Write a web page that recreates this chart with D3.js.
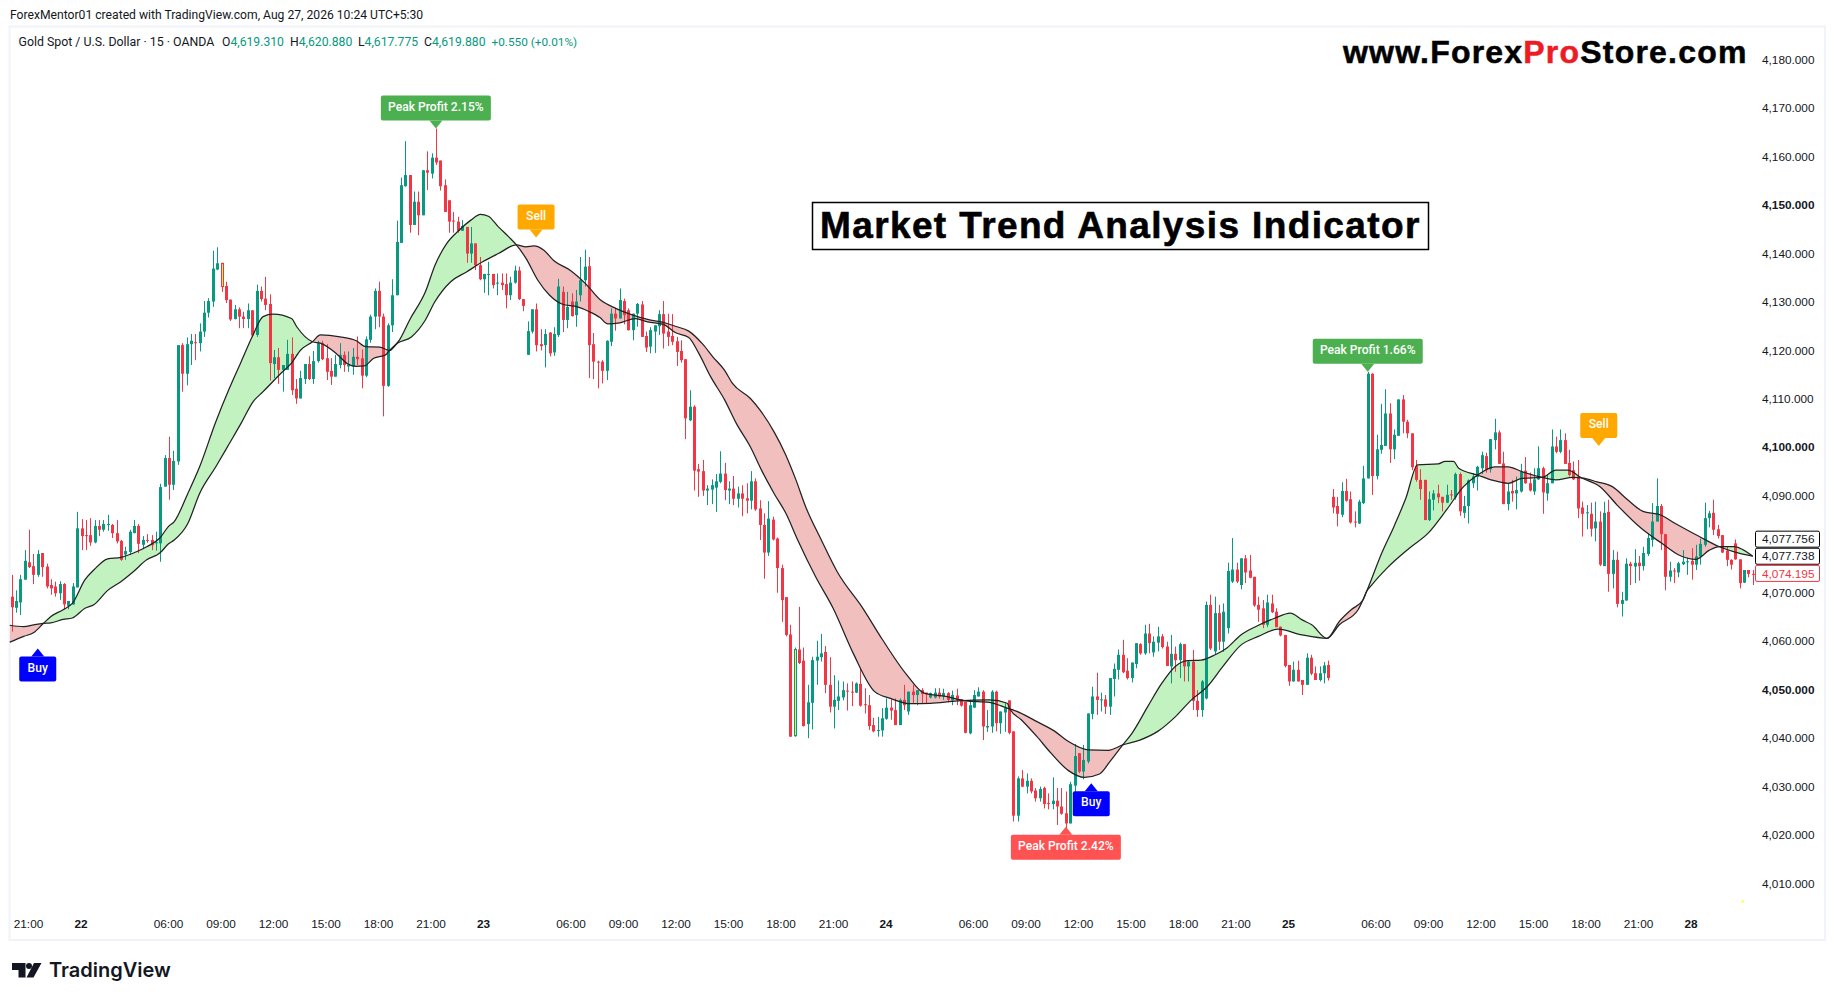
<!DOCTYPE html>
<html>
<head>
<meta charset="utf-8">
<title>Market Trend Analysis Indicator</title>
<script src="https://cdn.jsdelivr.net/npm/d3@7/dist/d3.min.js"></script>
<style>
html, body { margin: 0; padding: 0; background: #fff; overflow: hidden; }
svg { display: block; }
text { font-family: Roboto, "Liberation Sans", sans-serif; fill: #131722; }
.ax text { font-family: "Liberation Sans", sans-serif; font-size: 11.8px; fill: #131722; }
</style>
</head>
<body>
<svg id="chart" width="1835" height="1000"></svg>
<script>
// candles as [open, high, low, close], one list per session
var candles21 = [
    [4069.4,4073.9,4062.2,4067.2],[4067.1,4070.7,4066.1,4068.5],[4068.2,4073.9,4065.6,4073],[4072.9,4079,4072.9,4076.8],
    [4076.5,4083.2,4075.3,4075.5],[4075.7,4078.2,4072,4073.9],[4073.9,4079,4073.5,4078.2],[4078.4,4078.4,4073.5,4075.5],
    [4075.6,4076.2,4071.1,4071.5],[4071.8,4073,4069.8,4071.1],[4071.5,4072.5,4069.4,4070.1],[4070.1,4072.6,4068.7,4072],
    [4072,4072.2,4066.7,4067.8],[4067.5,4068.5,4066.8,4068.5],[4067.8,4072.2,4067.7,4071.5],[4071.3,4086.9,4071.3,4083.5]
];
var candles22 = [
    [4083.5,4085.4,4079,4081.9],[4082.1,4085.2,4079,4081.9],[4082.1,4085.6,4079.9,4080.6],[4080.6,4085.2,4080.4,4084],
    [4084,4085.2,4081.9,4083.2],[4083.2,4085.2,4082.8,4084.4],[4084.3,4086.3,4083,4084.4],[4084.2,4084.4,4081.5,4082.5],
    [4082.5,4085.2,4080.4,4080.8],[4080.9,4081.1,4076.8,4077],[4078.1,4079.7,4077,4078.8],[4078.6,4083.2,4078,4082.8],
    [4082.5,4085.2,4082.5,4084],[4084,4084.4,4078.4,4080.3],[4080.1,4081.9,4079.2,4081.1],[4081.1,4082.3,4080.5,4080.9],
    [4081.1,4082.1,4079,4080],[4080.4,4082.8,4078.9,4080.6],[4080.4,4092.7,4076.6,4092],[4092.1,4098.6,4092.1,4098],
    [4098,4102.4,4089.4,4092.5],[4092.5,4099.5,4091.4,4097.4],[4097.3,4121.3,4096.6,4121.3],[4121.3,4121.7,4111.7,4115.4],
    [4115.4,4122.9,4113,4121.5],[4121.5,4123.6,4117.2,4122.2],[4121.9,4123.6,4118.2,4121.8],[4121.7,4125.8,4120,4124.1],
    [4124.1,4130.4,4123,4128],[4128,4131,4127,4130.4],[4130.3,4140.8,4129.2,4137.1],[4136.9,4141.5,4136.8,4138.2],
    [4138.2,4138.2,4132.3,4133.4],[4133.5,4134.4,4130,4130.6],[4130.7,4130.7,4126.3,4126.6],[4126.7,4129.6,4126.6,4128.7],
    [4128.7,4129.1,4124.8,4127.2],[4127.2,4128.2,4124.8,4126.7],[4126.7,4129.9,4124.8,4128.5],[4128.5,4128.5,4123,4123.3],
    [4123.4,4133.8,4123,4132.5],[4132.5,4133.4,4130.3,4130.8],[4130.9,4135.4,4128.5,4129.6],[4129.8,4131.8,4114,4117.6],
    [4117.4,4120.3,4114.5,4118.8],[4118.8,4120.7,4113.3,4116.2],[4116.2,4117.2,4111.7,4117.2],[4116.2,4122.4,4116.2,4119.5],
    [4119.5,4122.9,4111,4112],[4112.3,4114.3,4109.2,4110.3],[4110.3,4116,4110.3,4114.5],[4114.3,4117.4,4113.3,4117.4],
    [4117.4,4119,4114.1,4114.3],[4114.3,4120.1,4113.3,4118],[4118,4122.2,4117.7,4121.7],[4121.7,4122.2,4118.2,4118.4],
    [4118.6,4121.5,4114.1,4115.8],[4116,4118.6,4113.1,4114.8],[4114.8,4119.3,4114.8,4117.4],[4117.2,4121.7,4116.5,4119.3],
    [4119.3,4120,4115.8,4117.2],[4116.9,4120,4115.8,4117.3],[4116.9,4120.7,4115.2,4118.9],[4118.9,4123.1,4117.2,4118.4],
    [4118.6,4120.4,4112.4,4115],[4115,4123.1,4114.7,4122.5],[4122.4,4127.6,4121.8,4127.2],[4127.2,4133,4124.6,4132.5],
    [4132.5,4134.4,4125,4127.2],[4127.2,4127.8,4106.6,4112.9],[4112.9,4125.8,4112.7,4125.4],[4125.4,4134.9,4124,4131.6],
    [4131.6,4147,4131.6,4142.6],[4142.4,4155.9,4142.4,4154.3],[4154.1,4163.4,4154,4156.4],[4156.4,4156.4,4144.5,4146.1],
    [4146.1,4153,4146.1,4150.9],[4150.9,4153,4144,4148.1],[4148.1,4157.4,4148.1,4157.4],[4157.4,4161.3,4153.3,4156.9],
    [4156.7,4160.9,4155.7,4160],[4160,4166,4158.5,4159],[4159.4,4159.4,4153.2,4154.1],[4154.3,4155.5,4148.8,4148.8],
    [4151.2,4151.2,4144.5,4146.8],[4147,4148.8,4144.5,4146.8],[4146.8,4147.8,4144.5,4144.9],[4144.9,4147.1,4144.9,4145.9],
    [4145.7,4145.7,4138.3,4140.2],[4140.2,4145.7,4138.3,4142.3],[4142.3,4142.3,4136.8,4137.8],[4137.8,4139.5,4134.7,4134.9]
];
var candles23 = [
    [4134.9,4136,4132.1,4136],[4135.8,4138.5,4131.6,4136],[4136,4136,4133,4133.7],[4134,4136.1,4131.6,4134.2],
    [4134.2,4136.1,4132.7,4133.7],[4133.9,4136.1,4128.9,4131.6],[4131.6,4135.4,4130.6,4134.2],[4134.2,4137.7,4134,4136.7],
    [4136.7,4137.5,4130.6,4130.8],[4130.8,4130.8,4128.3,4129.4],[4119.3,4126.2,4119.3,4124.2],[4124.1,4128.7,4123.7,4128.7],
    [4128.7,4129.9,4120,4121.3],[4121.5,4124.6,4120.2,4121.1],[4121.3,4124.6,4116.7,4123.6],[4123.9,4124,4119,4119.6],
    [4119.8,4125,4119.1,4123.6],[4123.4,4135,4123,4133.4],[4132.3,4133.4,4124,4126.5],[4126.5,4132.3,4124.8,4129.2],
    [4130.3,4132,4127.2,4127.3],[4127.5,4132.7,4125.1,4130.3],[4131.6,4139.5,4130.3,4134.7],[4134.7,4141,4133.4,4137.5],
    [4137.6,4139.5,4114.5,4121.3],[4121.5,4123.8,4114.3,4117.9],[4117.9,4118.1,4112.4,4117.7],[4117.9,4118.2,4113.4,4116],
    [4116,4122.3,4114.1,4122.2],[4122,4128.9,4121.1,4127.8],[4127.8,4129,4124.3,4126.8],[4126.8,4133,4126.8,4130.6],
    [4130.4,4130.9,4125.6,4127.5],[4128.5,4128.9,4124.3,4124.4],[4124.4,4127.8,4122.3,4127.8],[4127.8,4130,4125.1,4129.8],
    [4129.7,4130.4,4123,4123],[4123.2,4124.1,4119.9,4120.8],[4121,4125,4119.6,4124.4],[4124.1,4125.4,4119.7,4125.4],
    [4125.2,4128.5,4123.4,4127.7],[4127.7,4130.4,4120.6,4123.7],[4124.1,4127.8,4121.1,4123],[4123.2,4127.7,4121.3,4122],
    [4122.1,4123,4117,4119.9],[4120.1,4122.3,4117.7,4118.2],[4118.4,4118.4,4101.9,4106.2],[4105.8,4112,4105.6,4108.6],
    [4108.6,4108.9,4091.3,4095.4],[4095.7,4096.8,4090,4095.2],[4095.3,4097.6,4090.2,4091.3],[4091.3,4092.4,4088.3,4091.7],
    [4091.5,4093.6,4088.5,4092.4],[4091.9,4094.7,4086.9,4093.2],[4093.1,4099.4,4092.8,4094.8],[4094.8,4097,4089.3,4091.4],
    [4091.3,4093.2,4088.5,4091.7],[4091.7,4094.3,4088.3,4089.6],[4089.6,4092.1,4087.8,4090.7],[4090.7,4092.4,4086,4089.6],
    [4089.7,4092.8,4086.6,4089.2],[4089.2,4095.3,4087.4,4093.2],[4093.2,4093.8,4087.1,4087.4],[4087.6,4089.3,4081.1,4084.2],
    [4084.2,4086.6,4073.1,4078.5],[4078.5,4089.1,4077.8,4085.5],[4085.3,4085.9,4081,4081.2],[4081.4,4081.6,4070.2,4075.3],
    [4075.3,4076,4064.2,4068.7],[4069.3,4069.3,4061.2,4061.5],[4061.6,4063.6,4040.5,4040.5],[4040.7,4058.9,4040.5,4058.5],
    [4058.5,4067.3,4055.5,4055.7],[4056.2,4058.9,4042.6,4042.7],[4043.1,4051.2,4040.2,4047.6],[4047.5,4057,4042,4056.3],
    [4056.2,4060.3,4051.2,4057],[4056.9,4061.7,4056,4057.7],[4058,4059.2,4049.5,4051.2],[4051.2,4056.9,4045.5,4046.7],
    [4046.7,4053.2,4042.2,4048.1],[4047.9,4052.1,4046,4048.8],[4048.6,4051.9,4048,4050.1],[4050,4051.5,4045.9,4049.8],
    [4049.8,4051.9,4046.8,4049.7],[4049.6,4051.7,4049.5,4051.5],[4051.4,4054.5,4046.7,4046.9],[4047.2,4050.5,4045.3,4047],
    [4047,4049.1,4041.9,4042.7],[4042.9,4044.4,4041.4,4041.6],[4041.8,4044.6,4040.5,4041.9],[4041.8,4046.4,4040.5,4044.3]
];
var candles24 = [
    [4044.2,4048.4,4044,4046.5],[4046.5,4048.2,4044,4045.9],[4046,4048.4,4042.9,4042.9],[4042.9,4048.4,4042.9,4048.1],
    [4048.1,4051.2,4046,4047],[4045.7,4049.8,4045,4049.8],[4049.8,4051.2,4047.4,4049.1],[4049.1,4050.1,4047,4050.1],
    [4050.1,4050.5,4047.4,4049.3],[4049.6,4049.6,4047.4,4049.3],[4048.6,4049.6,4048.4,4049.5],[4048.6,4050.5,4048.4,4049.6],
    [4049.6,4050.5,4048.4,4048.8],[4048.8,4050.4,4048.1,4049.5],[4049.5,4049.7,4047.6,4048.1],[4048,4050,4047,4049.1],
    [4049,4050.4,4047,4048.1],[4048.2,4048.2,4046.7,4046.9],[4047.7,4047.7,4041.2,4041.3],[4041.2,4048.1,4041,4047],
    [4046.5,4050.1,4046.4,4049.1],[4048.8,4050.7,4048.8,4049.8],[4049.8,4050.1,4039.8,4042.6],[4042.4,4046,4041.5,4042.7],
    [4042.6,4050.1,4041.3,4049.8],[4049.8,4050,4041.6,4043.3],[4043.3,4045.7,4041.1,4045.7],[4045.5,4047.4,4041.5,4046.4],
    [4048,4048,4041,4041.3],[4041.6,4041.6,4023,4024.2],[4024.2,4032.3,4023,4031.9],[4031.9,4033.6,4030.1,4030.2],
    [4030.2,4032.9,4028.8,4031.4],[4031.4,4031.9,4028.8,4029.2],[4029.4,4029.9,4027.1,4027.8],[4027.8,4030.2,4027.1,4029.7],
    [4029.9,4030.2,4025.7,4026.6],[4026.8,4028.8,4025.5,4026.6],[4026.6,4032.1,4025.5,4027.3],[4027.3,4029.9,4022.3,4026.1],
    [4026.1,4029.9,4024.4,4024.6],[4024.7,4029.2,4021.6,4022.6],[4022.6,4031.2,4022.6,4030.7],[4030.4,4039,4028.8,4036.5],
    [4037.1,4037.1,4033,4033.3],[4033.3,4038.8,4031.7,4035.7],[4035.4,4045.3,4035,4045.3],[4045.2,4050.8,4044.1,4048.8],
    [4048.8,4053.7,4045,4048.1],[4048,4049.6,4045.7,4048.2],[4048.2,4049.1,4045.2,4046.7],[4046.7,4052.6,4045,4052.6],
    [4052.4,4055.6,4048.8,4054.5],[4054.3,4058.5,4052.3,4057.4],[4057.4,4060.5,4053.6,4053.8],[4054.1,4056.7,4052.3,4052.6],
    [4052.6,4055.8,4051.7,4055.8],[4055.5,4059.8,4054.6,4059.8],[4059.6,4059.8,4057.4,4057.7],[4057.7,4063.6,4057.4,4061.8],
    [4061.8,4063.8,4057.7,4059.8],[4057.9,4061.2,4057,4060.1],[4059.9,4063.2,4058.1,4061.2],[4061.2,4061.7,4058.7,4059],
    [4059.1,4060.1,4055.1,4055.1],[4055,4061.5,4051.5,4057.6],[4057.6,4059.1,4053.9,4056.3],[4056.3,4059.9,4052.6,4059.6],
    [4059.6,4059.6,4051.9,4055],[4055,4056.3,4051.9,4056],[4056,4058.4,4046,4047.9],[4047.9,4050.1,4044.6,4046],
    [4046,4052.2,4044.6,4051.9],[4048.4,4068.4,4048.2,4067.7],[4067.7,4069.8,4058.4,4058.7],[4058.1,4069.4,4057.4,4066],
    [4066,4067.7,4058.4,4060.1],[4060.1,4068,4058,4066.3],[4062.9,4076.4,4061.8,4074.7],[4072.5,4081.5,4072.2,4075],
    [4075,4076.4,4072.2,4072.5],[4071.8,4077.3,4070.9,4077.3],[4077.3,4078,4072.2,4074.4],[4074.8,4078,4073.2,4073.3],
    [4073.5,4073.5,4067.3,4067.6],[4067.7,4069.4,4064.2,4066.7],[4067,4068.7,4062.9,4063.6],[4063.6,4069.8,4063.1,4068.2],
    [4068,4069.8,4066,4066.2],[4066.3,4067,4063.1,4063.1],[4063.2,4063.2,4061.2,4061.4],[4061.5,4061.5,4054.8,4055.1]
];
var candles25 = [
    [4055.3,4055.3,4051,4051.9],[4051.9,4056,4051.9,4054.3],[4054.3,4056.2,4051.9,4051.9],[4052.2,4052.2,4049.1,4051.2],
    [4051.2,4057.7,4051.2,4056.8],[4056.8,4057.4,4053.2,4053.5],[4053.6,4055,4052.2,4052.2],[4052.2,4055,4051.9,4053.6],
    [4053.6,4055.9,4051.5,4055.2],[4055.3,4056.2,4052.1,4052.6],[4090,4091.6,4086.6,4087.8],[4088.1,4090,4083.9,4086.5],
    [4086.3,4093,4085.8,4091.2],[4091.2,4093.7,4089,4089.2],[4089.5,4091.1,4084.5,4084.7],[4084.9,4087,4083.7,4084.8],
    [4084.5,4089.4,4084.4,4089],[4088.7,4096.4,4088.5,4093.8],[4093.8,4115.8,4093.8,4115.4],[4115.4,4115.5,4090.4,4094.3],
    [4094.3,4102.8,4093.6,4099.8],[4099.7,4109.2,4098.9,4100.7],[4100.5,4112.2,4100.5,4107.2],[4107.2,4109.3,4097,4099.8],
    [4099.8,4103.9,4097.8,4102.8],[4102.6,4110.1,4102.6,4110.1],[4110.1,4111,4103.1,4105.5],[4105.5,4105.9,4102.1,4103.1],
    [4103.1,4103.1,4095.5,4096.1],[4096.4,4097.6,4093.1,4093.5],[4093.5,4095.7,4089.4,4091.6],[4093.5,4093.5,4085.2,4085.2],
    [4085.2,4091.1,4085,4089.5],[4089.4,4091.4,4087.2,4090.7],[4090.7,4092.5,4088.7,4089.9],[4090,4090,4087,4088.8],
    [4088.8,4092.5,4088.7,4090.4],[4090.5,4091.4,4089.4,4090.3],[4089.9,4095,4089.4,4094.7],[4094.7,4095,4086.1,4087],
    [4086.7,4090.2,4085.6,4088.1],[4088.1,4093.6,4084.5,4093.4],[4092.8,4094.9,4091.8,4094.2],[4094.1,4096.4,4091.3,4096.2],
    [4095.9,4099.3,4094.7,4098.6],[4098.4,4099.1,4095,4095.6],[4095.7,4101.9,4095,4101.9],[4101.7,4106.1,4099.8,4103.3],
    [4103.3,4103.7,4096.8,4096.8],[4096.9,4099.3,4088.5,4088.5],[4088.5,4092.8,4087.2,4091.1],[4091.2,4093.5,4089,4090.7],
    [4090.7,4094.2,4087.4,4091.4],[4091.1,4096.8,4090.9,4095.2],[4095.4,4098.2,4092.7,4092.8],[4092.8,4095,4091.1,4091.3],
    [4091.1,4095.9,4090.4,4093.6],[4093.6,4100.4,4093.5,4095.9],[4095.9,4096.2,4086.5,4090.9],[4090.7,4094.7,4089.2,4092.8],
    [4092.8,4103.9,4092.8,4100.4],[4100.4,4102.4,4099,4099.3],[4099.3,4103.9,4099,4101.7],[4101.7,4103.1,4096.8,4096.8],
    [4097,4099.7,4094.2,4094.5],[4095.5,4097.3,4093.5,4093.6],[4094.2,4097.6,4085.6,4087.6],[4087.8,4089,4081.8,4086.5],
    [4086.6,4088.3,4083.3,4086.8],[4086.5,4088.8,4081.8,4083.4],[4083.5,4089,4080.8,4084.9],[4084.9,4087,4075.7,4076],
    [4075.7,4089,4075.7,4086.7],[4086.9,4089.4,4070.4,4074.1],[4074.1,4079,4071.1,4077],[4077,4078.7,4067.2,4067.9],
    [4067.9,4070.4,4065.3,4068.7],[4068.6,4077.3,4068.6,4076.2],[4076.2,4076.6,4071.8,4075.7],[4075.6,4079.2,4072.2,4076.4],
    [4076.4,4077.8,4072.7,4075.7],[4075.7,4079.7,4074.8,4078.4],[4078.2,4082.5,4077.8,4081.5],[4081.1,4088.7,4079.7,4084.9],
    [4084.9,4093.8,4084.9,4088.1],[4088.1,4088.5,4079,4082.3],[4082.3,4082.3,4070.7,4073.5],[4073.5,4076.6,4072.5,4074.8],
    [4074.8,4075.3,4072.2,4074.6],[4074.4,4076.6,4073.4,4076.3],[4076.1,4079,4075.9,4076.6],[4076.6,4077.5,4073.9,4076.7]
];
var candles28 = [
    [4076.8,4079.4,4072.9,4076],[4076,4080.1,4074.9,4077.7],[4077.7,4081.4,4076,4080.3],[4080.1,4088.8,4079.7,4085.6],
    [4085.6,4087.1,4083.7,4086.6],[4086.7,4089.4,4082.1,4083.2],[4083.3,4084.2,4081.4,4081.9],[4082.1,4082.1,4078.4,4078.5],
    [4078.9,4079.7,4075.7,4077],[4077,4077.1,4075,4076],[4080.4,4081.2,4077,4077.1],[4077.1,4077.1,4071.1,4072.2],
    [4072.3,4074.9,4072.2,4074.9],[4074.9,4074.9,4073.4,4074.1],[4074.1,4074.9,4071.8,4074]
];
var outlinedBars = [48, 179];

// the two indicator lines as [bar, price]
var fastLine = [
    [-0.4,4060],[2.8,4061.2],[5.1,4062],[7.3,4063.9],[9,4065.3],[11.8,4066.7],[13.9,4068],[16.8,4072.9],[18.9,4075],[22,4077.2],
    [25,4077.5],[27.9,4078.4],[30.9,4079.7],[33.9,4081.5],[35.9,4083.9],[37.2,4084.9],[40.3,4090.7],[43,4096.2],[46.7,4105.5],[49.8,4112.4],
    [52.5,4117.9],[55.2,4123.4],[57.5,4127.2],[59.8,4127.7],[64,4126.8],[65.2,4125.1],[68.8,4122],[70.6,4121.7],[74.2,4119.6],[76.9,4117.4],
    [78.8,4116.9],[80.6,4117],[82.8,4118.6],[85.5,4119.3],[86.4,4120.2],[88.7,4122.4],[91,4126.5],[94.6,4132.3],[96.8,4137.8],[99.5,4142.3],
    [102.3,4145],[105,4147.1],[107.2,4148.3],[109,4147.9],[111.3,4145.7],[113.6,4143.7],[115.4,4142],[117.6,4139.2],[120.3,4134.7],[123,4131.6],
    [125.8,4129.8],[129.4,4129.2],[132.1,4128.2],[134.5,4127],[136.3,4125.7],[139,4125.9],[142.6,4126.8],[145.4,4126.1],[149,4125.6],[151.7,4123.9],
    [154.8,4122.9],[157.1,4119.6],[159.8,4114.8],[163,4110],[165.7,4105.1],[168.9,4100.3],[171.6,4095.2],[174.3,4090.7],[177,4086.6],[179.7,4081.1],
    [183.8,4073.5],[187.8,4067],[192.4,4057.7],[197.3,4049.8],[200.9,4048.4],[205.5,4047.3],[210,4047.4],[216.3,4047.9],[223.5,4048.1],[227.6,4047.4],
    [228.2,4046.2],[230.8,4044],[234.4,4040.5],[237.6,4037.1],[241.6,4033.5],[245.2,4032.1],[248.7,4032.8],[251.1,4035.4],[254,4038.8],[256.1,4041.2],
    [259.7,4046.7],[262.9,4051.5],[266,4055],[268.8,4056.2],[271.9,4056.3],[275.1,4057.4],[277.8,4058.8],[281,4061.5],[284.1,4063.1],[288.6,4064.9],
    [292.3,4066],[295,4064.6],[297.2,4063.6],[300.7,4060.8],[303.5,4063.6],[307.8,4066.7],[309.7,4070.4],[313.2,4078.4],[316,4083.9],[318.7,4089.7],
    [321.4,4096.6],[326.1,4096.8],[327.7,4097.3],[329.6,4097.3],[330.8,4095.9],[335.1,4094.5],[338.2,4093.5],[342.1,4092.8],[345.2,4093.8],[349.9,4094],
    [353,4095.5],[355.7,4095.5],[358.9,4093.9],[363.1,4092.1],[367,4088.3],[372.5,4083.5],[377.2,4080.4],[381.1,4078],[385,4077.1],[388.1,4079],
    [390.4,4079.7],[393.6,4079.7],[398,4077.756]
];
var slowLine = [
    [-0.4,4063.5],[2.8,4063.2],[5.1,4063.6],[7.3,4063.9],[9,4064],[11.8,4064.7],[13.9,4065],[16.8,4067],[18.9,4067.8],[22,4070.7],
    [25,4072.5],[27.9,4074.6],[30.9,4077],[33.9,4078.4],[35.9,4080.3],[37.2,4081.1],[40.3,4084.5],[43,4090.7],[46.7,4096.2],[49.8,4101],
    [52.5,4105.2],[55.2,4109.6],[57.5,4111.7],[61.6,4115.5],[64,4117.6],[66.1,4120.3],[68.8,4122],[70.6,4123.4],[75.1,4123],[78.8,4122.2],
    [81,4121],[84.2,4120.9],[86.4,4120.2],[88.2,4121.7],[91.4,4123],[94.6,4126.5],[96.8,4130.3],[100.4,4134.4],[104,4136.4],[107.7,4138.5],
    [111.3,4140.2],[115.4,4142],[117.6,4141.6],[119.4,4141.8],[121.7,4140.9],[124,4138.7],[127.6,4136.8],[131.2,4134],[134.8,4130.5],[138.1,4128.9],
    [141.7,4127.6],[145.4,4126.6],[149,4126],[151.7,4125.2],[154.8,4124.2],[158,4121.5],[160.3,4118.9],[163,4116.1],[164.8,4113.4],[168.9,4110.3],
    [171.1,4107.9],[174.3,4103.4],[177,4098.6],[179.3,4093.5],[181.5,4088],[185.1,4081.1],[188.7,4074.6],[194.6,4067],[199.1,4060.5],[204.6,4053.3],
    [208.6,4049.5],[213.6,4048.8],[218.1,4047.9],[223.5,4047.6],[228.2,4046.2],[229,4046],[234.4,4043.6],[238.5,4041.6],[241.6,4039.5],[246.1,4037.8],
    [250.7,4037.7],[254,4038.8],[257.9,4039.8],[262,4041.6],[266,4044.6],[269.7,4048.1],[273.3,4050.8],[276.9,4055],[281,4059.4],[285,4061.2],
    [289.5,4062.7],[295,4061.5],[300.7,4060.8],[303.5,4064.3],[306.2,4066.7],[308.9,4068.7],[309.7,4070.4],[310.9,4071.8],[314.4,4075.3],[319.5,4079.4],
    [323.8,4082.5],[328,4087.3],[331.9,4092.1],[335.1,4094.5],[339,4096.2],[342.1,4096.2],[345.2,4095.2],[349.9,4094],[353,4093.5],[356.9,4094],
    [358.9,4093.9],[362.4,4093.1],[365.9,4092.1],[369.4,4089.4],[372.9,4087],[376.8,4086.3],[380.3,4084.5],[385.8,4081.8],[390.4,4079.7],[393.6,4078.7],
    [398,4077.738]
];

var priceTicks = [4180,4170,4160,4150,4140,4130,4120,4110,4100,4090,4070,4060,4050,4040,4030,4020,4010];
var boldPrices = [4150,4100,4050];
var timeBars = [4,16,36,48,60,72,84,96,108,128,140,152,164,176,188,200,220,232,244,256,268,280,292,312,324,336,348,360,372,384];
var timeLabels = ['21:00','22','06:00','09:00','12:00','15:00','18:00','21:00','23','06:00','09:00','12:00','15:00','18:00','21:00','24',
    '06:00','09:00','12:00','15:00','18:00','21:00','25','06:00','09:00','12:00','15:00','18:00','21:00','28'];

// signal flags: label, bar, price of the arrow tip, colour, box width, up = box hangs under the tip
var signalTexts = ['Buy','Peak Profit 2.15%','Sell','Peak Profit 2.42%','Buy','Peak Profit 1.66%','Sell'];
var signalBars = [6,97,119.9,241,246.8,310,362.8];
var signalPrices = [4058.7,4166,4143.5,4021.9,4030.9,4115.8,4100.5];
var signalColors = ['#0000ff','#4caf50','#ffa800','#ff5252','#0000ff','#4caf50','#ffa800'];
var signalWidths = [37,110,37,110,37,110,37];
var signalUp = [true,false,false,true,true,false,false];

// stray yellow dot below the last candles
var dotBars = [395.7];
var dotPrices = [4006.5];

var lastLabels = ['4,077.756','4,077.738','4,074.195'];
var lastPrices = [4077.756,4077.738,4074.195];
var lastOffsets = [-17,0,0];
var lastColors = ['#000000','#000000','#f23645'];

var svg = d3.select('#chart');
var pane = { left: 10.5, right: 1824, top: 27.5, bottom: 939 };
var allCandles = candles21.concat(candles22, candles23, candles24, candles25, candles28);

var x = d3.scaleLinear().domain([0, 398]).range([11.5, 1752.75]);
var y = d3.scaleLinear().domain([4010, 4180]).range([884.5, 60.7]);

svg.append('rect').attr('x', pane.left - 1).attr('y', pane.top - 1)
    .attr('width', pane.right - pane.left + 2).attr('height', pane.bottom - pane.top + 2)
    .attr('fill', '#fff').attr('stroke', '#f0f3fa').attr('stroke-width', 2);

var defs = svg.append('defs');
var smooth = d3.curveMonotoneX;
var lineGen = d3.line().curve(smooth).x(function (d) { return x(d[0]); }).y(function (d) { return y(d[1]); });
var areaTo = function (edge) {
    return d3.area().curve(smooth).x(function (d) { return x(d[0]); }).y0(edge).y1(function (d) { return y(d[1]); });
};
defs.append('clipPath').attr('id', 'aboveSlow').append('path').attr('d', areaTo(pane.top)(slowLine));
defs.append('clipPath').attr('id', 'aboveFast').append('path').attr('d', areaTo(pane.top)(fastLine));

// green where fast is over slow, red where it is under
svg.append('path').attr('d', areaTo(pane.bottom)(fastLine)).attr('clip-path', 'url(#aboveSlow)').attr('fill', '#c1f2c0');
svg.append('path').attr('d', areaTo(pane.bottom)(slowLine)).attr('clip-path', 'url(#aboveFast)').attr('fill', '#f2bfbf');

// candles
var up = '#089981', down = '#f23645';
var isUp = function (d) { return d[3] >= d[0]; };
var colorOf = function (d) { return isUp(d) ? up : down; };
var bars = svg.append('g').selectAll('g').data(allCandles).enter().append('g');
bars.append('line')
    .attr('x1', function (d, i) { return Math.round(x(i)) + 0.5; })
    .attr('x2', function (d, i) { return Math.round(x(i)) + 0.5; })
    .attr('y1', function (d) { return y(d[1]); })
    .attr('y2', function (d) { return y(d[2]); })
    .attr('stroke', colorOf);
bars.append('rect')
    .attr('x', function (d, i) { return Math.round(x(i)) - 1 + (outlinedBars.indexOf(i) >= 0 ? 0.5 : 0); })
    .attr('width', function (d, i) { return outlinedBars.indexOf(i) >= 0 ? 2 : 3; })
    .attr('y', function (d) { return y(Math.max(d[0], d[3])); })
    .attr('height', function (d) { return Math.max(1, Math.abs(y(d[0]) - y(d[3]))); })
    .attr('fill', function (d, i) { return outlinedBars.indexOf(i) >= 0 ? '#ffeb3b' : colorOf(d); })
    .attr('stroke', function (d, i) { return outlinedBars.indexOf(i) >= 0 ? colorOf(d) : 'none'; });

svg.append('path').attr('d', lineGen(fastLine)).attr('fill', 'none').attr('stroke', '#222').attr('stroke-width', 1.25);
svg.append('path').attr('d', lineGen(slowLine)).attr('fill', 'none').attr('stroke', '#222').attr('stroke-width', 1.25);

svg.append('g').selectAll('rect').data(dotBars).enter().append('rect')
    .attr('x', function (d) { return x(d) - 1; })
    .attr('y', function (d, i) { return y(dotPrices[i]) - 1; })
    .attr('width', 2).attr('height', 2).attr('fill', '#ffff00');

// axes
var yAxis = svg.append('g').attr('class', 'ax').attr('transform', 'translate(1762,0)')
    .call(d3.axisRight(y).tickValues(priceTicks).tickSize(0).tickPadding(0).tickFormat(d3.format(',.3f')));
yAxis.select('.domain').remove();
yAxis.selectAll('text').attr('dy', '0.22em')
    .attr('font-weight', function (d) { return boldPrices.indexOf(d) >= 0 ? 'bold' : 'normal'; });

var xAxis = svg.append('g').attr('class', 'ax').attr('transform', 'translate(-1,917)')
    .call(d3.axisBottom(x).tickValues(timeBars).tickSize(0).tickPadding(3)
        .tickFormat(function (d, i) { return timeLabels[i]; }));
xAxis.select('.domain').remove();
xAxis.selectAll('text').attr('font-weight', function (d, i) { return timeLabels[i].length < 3 ? 'bold' : 'normal'; });

// last value labels on the price axis
lastLabels.forEach(function (t, i) {
    var cy = y(lastPrices[i]) + lastOffsets[i];
    svg.append('rect').attr('x', 1755.5).attr('y', cy - 8).attr('width', 64).attr('height', 16)
        .attr('rx', 1.5).attr('fill', '#fff').attr('stroke', lastColors[i]);
    svg.append('text').attr('x', 1762).attr('y', cy).attr('dy', '0.36em')
        .style('font-family', '"Liberation Sans", sans-serif').style('font-size', '11.8px')
        .style('fill', lastColors[i] === '#000000' ? '#131722' : lastColors[i]).text(t);
});

// signal flags
signalTexts.forEach(function (t, i) {
    var tx = x(signalBars[i]), ty = y(signalPrices[i]);
    var w = signalWidths[i], h = 25, a = 8, hw = 6.5, dir = signalUp[i] ? 1 : -1;
    var boxNear = ty + dir * a, boxFar = boxNear + dir * h;
    var top = Math.min(boxNear, boxFar);
    svg.append('rect').attr('x', tx - w / 2).attr('y', top).attr('width', w).attr('height', h)
        .attr('rx', 2).attr('fill', signalColors[i]);
    svg.append('path').attr('d', 'M' + (tx - hw) + ',' + boxNear + 'L' + tx + ',' + ty + 'L' + (tx + hw) + ',' + boxNear + 'Z')
        .attr('fill', signalColors[i]);
    svg.append('text').attr('x', tx).attr('y', top + h / 2 - 1.5).attr('dy', '0.35em').attr('text-anchor', 'middle')
        .style('fill', '#fff').style('font-size', '12.1px').style('font-weight', 500).text(t);
});

// header texts
svg.append('text').attr('x', 10).attr('y', 19).style('font-size', '12.15px').text('ForexMentor01 created with TradingView.com, Aug 27, 2026 10:24 UTC+5:30');
svg.append('text').attr('x', 18.5).attr('y', 46).style('font-size', '12.35px').text('Gold Spot / U.S. Dollar \u00b7 15 \u00b7 OANDA');
var ohlcKeys = ['O','H','L','C'], ohlcVals = ['4,619.310','4,620.880','4,617.775','4,619.880'];
var ohlcX = [222,290,358,424];
ohlcKeys.forEach(function (k, i) {
    var t = svg.append('text').attr('x', ohlcX[i]).attr('y', 46).style('font-size', '12.2px');
    t.append('tspan').text(k);
    t.append('tspan').style('fill', up).text(ohlcVals[i]);
});
svg.append('text').attr('x', 491.5).attr('y', 46).style('font-size', '11.8px').style('fill', up).text('+0.550 (+0.01%)');

// big captions
var site = svg.append('text').attr('x', 1343).attr('y', 62.7)
    .style('font-family', '"Liberation Sans", sans-serif').style('font-weight', 'bold').style('font-size', '32px')
    .style('letter-spacing', '1.2px').style('fill', '#000').style('stroke', '#000').style('stroke-width', '0.5px');
site.append('tspan').text('www.Forex');
site.append('tspan').style('fill', '#ed1c24').style('stroke', '#ed1c24').text('Pro');
site.append('tspan').text('Store.com');

svg.append('rect').attr('x', 812.5).attr('y', 202.5).attr('width', 616).attr('height', 47).attr('fill', '#fff').attr('stroke', '#000').attr('stroke-width', 1.5);
svg.append('text').attr('x', 820).attr('y', 238)
    .style('font-family', '"Liberation Sans", sans-serif').style('font-weight', 'bold').style('font-size', '37px')
    .style('letter-spacing', '1.38px').style('fill', '#000').style('stroke', '#000').style('stroke-width', '0.6px')
    .text('Market Trend Analysis Indicator');

// TradingView mark
svg.append('path').attr('fill', '#131722')
    .attr('d', 'M12,963H25.5V977.5H18.5V970H12Z M34,963H41.5L33.5,977.5H26.5Z');
svg.append('circle').attr('cx', 29).attr('cy', 966).attr('r', 3).attr('fill', '#131722');
svg.append('text').attr('x', 49).attr('y', 976.5)
    .style('font-family', 'Inter, sans-serif').style('font-size', '20px').style('font-weight', 600).text('TradingView');
</script>
</body>
</html>
